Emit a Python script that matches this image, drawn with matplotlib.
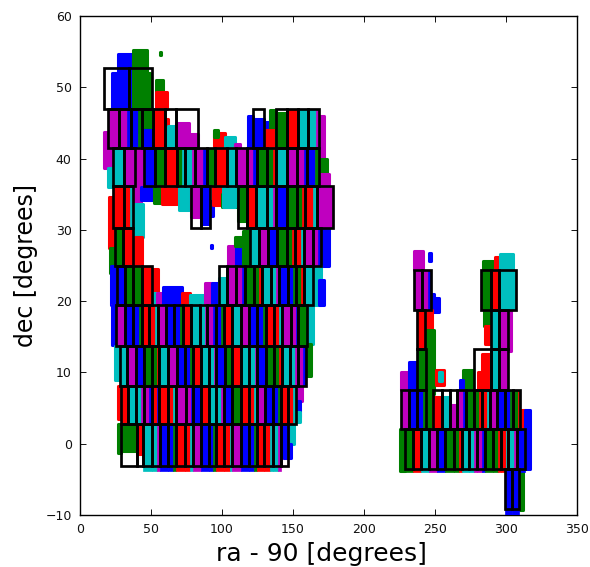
import matplotlib
matplotlib.use("Agg")
import matplotlib.pyplot as plt
from matplotlib.patches import Rectangle

# ---- data (ra, dec in degrees) ----
x_ticks = [0, 50, 100, 150, 200, 250, 300, 350]
y_ticks = [-10, 0, 10, 20, 30, 40, 50, 60]
x_label = "ra - 90 [degrees]"
y_label = "dec [degrees]"

# Observed tiles: (colour, ra_lo, ra_hi, dec_lo, dec_hi), outside or partly filling the boxes
blobs = [
    # top left
    ("b", 27, 37, 47, 54.7), ("b", 22.8, 27, 47, 52), ("g", 37, 47, 47, 55.2), ("g", 40, 49, 43.7, 52),
    ("g", 56, 57, 54.5, 54.9), ("g", 53.5, 58.5, 47.5, 51), ("r", 53.5, 61.5, 47, 49.3),
    ("g", 44, 48.5, 44, 47), ("b", 43.5, 51.5, 41.5, 44), ("r", 59.8, 62, 41.5, 45.5), ("c", 62, 67.6, 41.5, 44.6),
    ("m", 67.6, 77, 41.5, 45), ("m", 77, 83, 41.5, 43.5), ("m", 16.8, 23.5, 38.7, 43.7), ("c", 19.5, 23.5, 36, 38.7),
    ("m", 38.7, 45, 36, 41.5), ("m", 39, 43, 33.8, 36),
    # below the 36 degree row
    ("b", 43, 52, 34.2, 36), ("g", 52, 57.5, 33.8, 36), ("r", 57.5, 70, 33.6, 36), ("c", 70, 77, 32.8, 36),
    ("m", 78, 85, 31.8, 36), ("b", 85, 91, 30.8, 36), ("b", 91, 94, 32, 34), ("r", 94, 101, 33.5, 36),
    ("g", 100, 110, 33.2, 35), ("c", 101, 109, 33.2, 36), ("g", 111.5, 117.4, 31.2, 36),
    ("r", 20.2, 23.5, 30.3, 34.6), ("c", 39, 44.5, 29, 33.6), ("r", 38.5, 43.6, 25, 29),
    ("r", 20.3, 24.7, 27.5, 30.3), ("g", 21, 24.7, 24, 27.5), ("b", 21.5, 25.8, 19.4, 25),
    ("r", 50.5, 55, 21, 24.5), ("m", 22.5, 25, 14, 19.4), ("b", 22.8, 25, 13.8, 19.4),
    # bottom of the hole
    ("c", 50.5, 54, 19.4, 21.2), ("m", 54, 58.7, 19.4, 21.2), ("b", 58.7, 71.6, 19.4, 22), ("r", 71.6, 77.5, 19.4, 21.2),
    ("c", 77.5, 87, 19.4, 20.8), ("m", 88, 93, 19.4, 22.5), ("b", 93, 97.4, 19.4, 22.5), ("b", 92, 93, 27.4, 27.9),
    ("c", 98, 103.3, 19.4, 23.2), ("m", 104.4, 113.8, 25, 27.7), ("b", 110, 115, 25, 27.8), ("g", 115, 119.7, 25, 29.8),
    ("g", 109.5, 119.7, 27.7, 29),
    # top centre and right
    ("r", 94.5, 102, 41.5, 43.6), ("g", 94.5, 97, 43, 44), ("c", 102, 109, 41.5, 43), ("m", 109, 113, 41.5, 42),
    ("b", 122, 129.6, 41.5, 45.6), ("b", 118.5, 122, 41.5, 46), ("b", 130, 134, 44, 45.2), ("g", 134, 138, 44, 46.8),
    ("r", 130, 137.8, 41.5, 44), ("g", 138, 145.5, 41.5, 46.4), ("m", 168.5, 171.5, 40, 46), ("g", 168.5, 173.6, 37.8, 40),
    ("m", 168.5, 175, 36, 37.8), ("b", 170, 175, 25, 30.3), ("c", 164.3, 170, 19.4, 25), ("b", 168, 171.5, 19.5, 23),
    ("c", 160, 164, 14, 19.4), ("g", 160, 163, 9.5, 14), ("m", 151.9, 156, 6, 8.1), ("b", 152, 155, 3.8, 6),
    ("c", 146.7, 151, 0, 2.7), ("c", 151, 155, 3, 4.5), ("b", 146.7, 148.5, -2, 0),
    # left margin and first bottom tiles
    ("c", 24.8, 28.2, 9, 13.7), ("r", 26.8, 28.6, 3.5, 8.1), ("g", 26.5, 28.6, -1.3, 2.7),
    ("g", 28.6, 39.9, -1, 2.7), ("r", 39.9, 44.6, -1.5, 2.7), ("m", 141.5, 144, -2, 2.7), ("b", 144, 146.7, -2, 2.7),
    # right group
    ("m", 235, 241.8, 24.3, 27), ("b", 246, 247.5, 25.7, 26.7), ("g", 283.5, 291, 24.3, 25.6), ("r", 292.3, 295.8, 24.3, 26.2),
    ("c", 295.8, 305, 24.3, 26.6), ("b", 247.7, 253, 18.5, 20.5), ("b", 247.5, 249, 20, 21), ("r", 243, 247.7, 16, 18.8),
    ("g", 244, 249, 7, 16), ("g", 243.7, 247.8, 2.1, 7), ("g", 284.2, 288.7, 16.5, 18.8), ("r", 285, 288.7, 14, 16.5),
    ("m", 301.7, 303.5, 13, 18.8), ("r", 280, 289.2, 7.6, 10), ("r", 283, 292, 10, 12.6), ("c", 289.2, 295.3, 7.6, 13.3),
    ("m", 225.9, 232, 7.6, 10), ("b", 232, 237.2, 7.6, 11.4), ("r", 250.5, 256.5, 8.3, 10.4), ("c", 252.5, 254.8, 8.8, 10),
    ("g", 270, 277, 7.6, 10.3), ("b", 267.5, 270, 7.6, 9), ("r", 248.9, 254.7, 2.1, 6.5), ("c", 254.7, 260.6, 2.1, 6.5),
    ("m", 260.6, 265.8, 2.1, 5.5), ("r", 310, 314, 2.1, 4.7), ("b", 313.4, 316.8, -3.5, 4.7),
    ("g", 225.6, 228.9, -3.8, 2.1), ("g", 309.2, 312.2, -9.3, -3.5),
]

# Boxes in rows: box edges in ra, box dec limits, colours of the tiles inside each box
row_a_ra = [17, 34.7, 51]
row_a_dec = [47, 52.7]
row_a_colors = ["", ""]

row_b1_ra = [20, 27.5, 35.7, 43.7, 51.6, 59.8, 67.6, 83.3]
row_b2_ra = [122, 129.6]
row_b3_ra = [137.8, 145.5, 153.7, 160.8, 168.5]
row_b_dec = [41.5, 47]
row_b1_colors = ["m", "mb", "bg", "", "r", "", ""]
row_b2_colors = [""]
row_b3_colors = ["", "r", "c", "cm"]

row_c1_ra = [23.5, 31, 38.7]
row_c2_ra = [45, 52.8, 59.8, 68, 73.9, 81, 89.2, 95, 103.3, 109.6, 117.4, 124.4, 131.4, 138, 145.5, 152.6, 160, 168.5]
row_c_dec = [36.1, 41.5]
row_c1_colors = ["c", "m"]
row_c2_colors = ["b", "g", "r", "gc", "cm", "mb", "g", "r", "c", "m", "mb", "g", "gr", "c", "m", "mb", "bg"]

row_d1_ra = [23.5, 31, 37.5]
row_d2_ra = [78, 85, 91.5]
row_d3_ra = [111.5, 117.4, 124, 131.4, 138, 145.5, 152.6, 158.4, 166.6, 177.9]
row_d_dec = [30.3, 36.1]
row_d1_colors = ["r", "rc"]
row_d2_colors = ["", ""]
row_d3_colors = ["", "r", "c", "cm", "b", "g", "gr", "rc", "m"]

row_e1_ra = [24.7, 30.5, 37.5]
row_e2_ra = [119.7, 126.2, 132.6, 138.9, 145.5, 151.3, 157.9, 163.8, 169.7]
row_e_dec = [25, 30.3]
row_e1_colors = ["g", "r"]
row_e2_colors = ["c", "m", "b", "g", "gr", "rc", "m", "mb"]

row_f1_ra = [25.8, 31.7, 37.5, 43.4, 50.5]
row_f2_ra = [98, 103.2, 109.8, 116.1, 122.5, 128.3, 134.2, 140.1, 146.7, 151.8, 157.9, 163.8]
row_f_dec = [19.4, 25]
row_f1_colors = ["b", "g", "g", "r"]
row_f2_colors = ["", "m", "mb", "g", "gr", "c", "cm", "b", "bg", "gr", "c"]

row_g_ra = [25.1, 31.7, 37.1, 43.4, 48.8, 55.2, 60.3, 66.4, 72.8, 78.2, 84.5, 89.7, 95.5, 101.2, 107.3, 113.1, 119, 124.9, 130.7, 136.6, 142, 148.3, 153.7, 159.6]
row_g_dec = [13.7, 19.4]
row_g_colors = ["m", "b", "bg", "r", "rc", "m", "b", "bg", "r", "c", "cm", "mb", "bg", "r", "c", "m", "b", "bg", "r", "rc", "m", "mb", "g"]

row_h_ra = [28.2, 33.3, 39.2, 45.3, 50.9, 55.9, 62.2, 68.1, 73.9, 79.3, 85.5, 90.8, 95.8, 102.1, 107.3, 113.1, 119, 124.9, 130.7, 136.6, 142, 147.9, 153.7, 159.1]
row_h_dec = [8.1, 13.7]
row_h_colors = ["c", "m", "b", "g", "gr", "c", "m", "b", "bg", "r", "c", "cm", "b", "g", "r", "c", "cm", "b", "g", "gr", "c", "cm", "mb"]

row_i_ra = [28.6, 34, 39.4, 45.3, 50.5, 55.9, 61.7, 67.6, 74.6, 79.8, 85.2, 90.8, 95.8, 101.6, 107.3, 113.1, 119, 124.4, 130.3, 136.1, 141.5, 146.7, 151.9]
row_i_dec = [2.7, 8.1]
row_i_colors = ["r", "c", "cm", "mb", "rb", "r", "rc", "m", "mb", "b", "r", "c", "cm", "b", "g", "r", "rc", "m", "b", "bg", "r", "rc"]

row_j_ra = [28.6, 39.9, 44.6, 50.5, 56.3, 62.2, 67.6, 73.9, 79.8, 85.2, 90.8, 95.5, 101.4, 107.3, 113.1, 119, 124.4, 129.8, 135.7, 141.5, 146.7]
row_j_dec = [-3.1, 2.7]
row_j_colors = ["", "", "c", "cm", "b", "bg", "r", "rc", "m", "b", "bg", "r", "rc", "m", "b", "bg", "r", "rc", "cm", ""]

row_k1_ra = [235.2, 241.1, 247.2]
row_k2_ra = [282.4, 289.2, 295.3, 307]
row_k_dec = [18.8, 24.3]
row_k1_colors = ["m", "mb"]
row_k2_colors = ["g", "r", "c"]

row_l1_ra = [237, 243]
row_l2_ra = [289.2, 295.3, 301.7]
row_l_dec = [13.3, 18.8]
row_l1_colors = ["r"]
row_l2_colors = ["c", "m"]

row_m1_ra = [237, 243.7]
row_m2_ra = [277.5, 289.2, 295.3, 301.7]
row_m_dec = [7.6, 13.3]
row_m1_colors = ["g"]
row_m2_colors = ["", "", "m"]

row_n1_ra = [225.9, 232, 237.6, 243.7]
row_n2_ra = [248.9, 254.7, 260.6, 265.8, 271.9, 277.5, 282.9, 288.7, 293.9, 299.3, 304.7, 309.9]
row_n_dec = [2.1, 7.6]
row_n1_colors = ["m", "b", "bg"]
row_n2_colors = ["", "", "", "mb", "g", "gr", "rc", "m", "b", "bg", "gr"]

row_o_ra = [228.9, 234.3, 239.9, 245.8, 251.2, 257, 263.4, 268.8, 274.2, 279.4, 285.2, 290.6, 296.3, 301.7, 307.5, 313.4]
row_o_dec = [-3.5, 2.1]
row_o_colors = ["g", "r", "c", "m", "b", "g", "gr", "c", "cm", "mb", "g", "gr", "rc", "cm", "b"]

row_p_ra = [299.3, 304, 309.2]
row_p_dec = [-9.1, -3.5]
row_p_colors = ["b", "b"]

rows = [
    (row_a_ra, row_a_dec, row_a_colors),
    (row_b1_ra, row_b_dec, row_b1_colors), (row_b2_ra, row_b_dec, row_b2_colors), (row_b3_ra, row_b_dec, row_b3_colors),
    (row_c1_ra, row_c_dec, row_c1_colors), (row_c2_ra, row_c_dec, row_c2_colors),
    (row_d1_ra, row_d_dec, row_d1_colors), (row_d2_ra, row_d_dec, row_d2_colors), (row_d3_ra, row_d_dec, row_d3_colors),
    (row_e1_ra, row_e_dec, row_e1_colors), (row_e2_ra, row_e_dec, row_e2_colors),
    (row_f1_ra, row_f_dec, row_f1_colors), (row_f2_ra, row_f_dec, row_f2_colors),
    (row_g_ra, row_g_dec, row_g_colors), (row_h_ra, row_h_dec, row_h_colors),
    (row_i_ra, row_i_dec, row_i_colors), (row_j_ra, row_j_dec, row_j_colors),
    (row_k1_ra, row_k_dec, row_k1_colors), (row_k2_ra, row_k_dec, row_k2_colors),
    (row_l1_ra, row_l_dec, row_l1_colors), (row_l2_ra, row_l_dec, row_l2_colors),
    (row_m1_ra, row_m_dec, row_m1_colors), (row_m2_ra, row_m_dec, row_m2_colors),
    (row_n1_ra, row_n_dec, row_n1_colors), (row_n2_ra, row_n_dec, row_n2_colors),
    (row_o_ra, row_o_dec, row_o_colors), (row_p_ra, row_p_dec, row_p_colors),
]

COL = {"b": "#0000ff", "g": "#008000", "r": "#ff0000", "c": "#00bfbf", "m": "#bf00bf"}
BOTTOM_OVERHANG = {id(row_j_dec): 0.7, id(row_o_dec): 0.5, id(row_p_dec): 1.0}
MAIN_SHARE = 0.66  # the first colour of a two-colour box takes most of its width

fig = plt.figure(figsize=(5.9, 5.67), dpi=100)
ax = fig.add_axes([80 / 590, (567 - 515) / 567, (577 - 80) / 590, (515 - 16) / 567])

for c, x0, x1, y0, y1 in blobs:
    ax.add_patch(Rectangle((x0, y0), x1 - x0, y1 - y0, facecolor=COL[c], edgecolor=COL[c],
                           lw=2.2, joinstyle="round", zorder=2))

for ra, dec, colors in rows:
    extra = BOTTOM_OVERHANG.get(id(dec), 0)
    for i, code in enumerate(colors):
        if not code:
            continue
        width = ra[i + 1] - ra[i]
        shares = [1.0] if len(code) == 1 else [MAIN_SHARE, 1 - MAIN_SHARE]
        left = ra[i]
        for c, s in zip(code, shares):
            ax.add_patch(Rectangle((left, dec[0] - extra), width * s, dec[1] - dec[0] + extra,
                                   facecolor=COL[c], edgecolor=COL[c], lw=0.5, zorder=3))
            left += width * s

for ra, dec, colors in rows:
    for i in range(len(colors)):
        ax.add_patch(Rectangle((ra[i], dec[0]), ra[i + 1] - ra[i], dec[1] - dec[0], fill=False,
                               edgecolor="black", lw=1.95, joinstyle="miter", zorder=4))

ax.set_xlim(0, 350)
ax.set_ylim(-10, 60)
ax.set_xticks(x_ticks)
ax.set_yticks(y_ticks)
ax.tick_params(direction="in", top=True, right=True, length=4, width=0.7, labelsize=9, pad=6, colors="#111111")
for s in ax.spines.values():
    s.set_linewidth(1.0)
ax.set_xlabel(x_label, fontsize=18, labelpad=4, x=0.486)
ax.set_ylabel(y_label, fontsize=17, labelpad=5)
fig.savefig("out.png", dpi=100)
